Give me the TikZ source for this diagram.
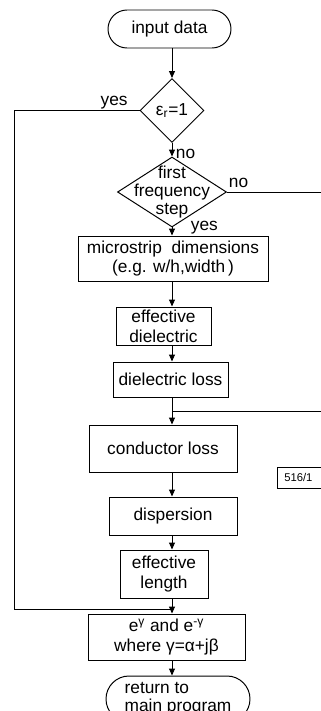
\documentclass[tikz,border=0pt]{standalone}
\usepackage{fontspec}
\setmainfont{Liberation Sans}
\usetikzlibrary{arrows.meta,shapes.geometric,shapes.misc}
\newcommand{\pxl}{0.025cm}

\begin{document}
\begin{tikzpicture}[x=0.025cm, y=-0.025cm, line width=0.7pt,
	font=\fontsize{12.3}{14}\selectfont,
	>={Triangle[length=7*\pxl, width=6*\pxl]},
	term/.style={draw, rounded rectangle, inner sep=0pt},
	proc/.style={draw, rectangle, align=center, inner sep=0pt},
	decision/.style={draw, diamond, inner sep=0pt},
	lbl/.style={inner sep=1pt},
	tag/.style={draw, line width=0.5pt, font=\fontsize{8}{9}\selectfont, text width=40*\pxl, align=left, inner xsep=7*\pxl, minimum height=21*\pxl}]
	\useasboundingbox (0,0) rectangle (321,711);
	
						% main column of the chart
						\coordinate (spine) at (172,0);
						\node [term, minimum width=123*\pxl, minimum height=38*\pxl] (input) at (169.5, 29) {input data};
						\node [decision, minimum width=64*\pxl, minimum height=64*\pxl, label=center:{ε\textsubscript{r}=1}] (epsr) at (172, 110.5) {};
						\node [decision, minimum width=109*\pxl, minimum height=70*\pxl, label={[align=center, font=\fontsize{12.3}{13}\selectfont]center:first\\frequency\\step}] (first) at (172, 192) {};
						\node [proc, minimum width=190*\pxl, minimum height=45*\pxl] (micro) at (173, 258.5) {microstrip\ \ dimensions\\(e.g. w/h,width\,)};
						\node [proc, minimum width=95*\pxl, minimum height=38*\pxl] (effdiel) at (163.5, 326) {effective\\dielectric};
						\node [proc, minimum width=115*\pxl, minimum height=35*\pxl] (dielloss) at (170.5, 379.5) {dielectric loss};
						\node [proc, minimum width=148*\pxl, minimum height=47*\pxl] (condloss) at (163, 448.5) {conductor loss};
						\node [proc, minimum width=128*\pxl, minimum height=38*\pxl] (disp) at (173, 516) {dispersion};
						\node [proc, minimum width=88*\pxl, minimum height=48*\pxl] (efflen) at (164, 574) {effective\\length};
						\node [proc, minimum width=157*\pxl, minimum height=46*\pxl] (prop) at (166.5, 637) {e\textsuperscript{γ} and e\textsuperscript{-γ}\\where γ=α+jβ};
						\node [term, minimum width=144*\pxl, minimum height=46*\pxl, align=left, font=\fontsize{12.3}{13}\selectfont] (ret) at (178, 699) {return to\\main program};
						
						% off-page ends and the bypass corner
						\coordinate (bypass) at (14, 609);
						\coordinate (skip) at (321, 192);
						\coordinate (back) at (321, 411);
						
						\node [tag, anchor=west] (fignum) at (277, 477.5) {516/1};
						
						\draw[->] (input.south -| spine) -- (epsr.north);
						\draw[->] (epsr.south) node[lbl, anchor=north west, xshift=2*\pxl, yshift=-4*\pxl] {no} -- (first.north);
						\draw[->] (first.south) node[lbl, anchor=west, xshift=17*\pxl] {yes} -- (micro.north -| spine);
						\draw[->] (micro.south -| spine) -- (effdiel.north -| spine);
						\draw[->] (effdiel.south -| spine) -- (dielloss.north -| spine);
						\draw[->] (dielloss.south -| spine) -- (condloss.north -| spine);
						\draw[->] (condloss.south -| spine) -- (disp.north -| spine);
						\draw[->] (disp.south -| spine) -- (efflen.north -| spine);
						\draw[->] (efflen.south -| spine) -- (prop.north -| spine);
						\draw[->] (prop.south -| spine) -- (ret.north -| spine);
						
						\draw (epsr.west) node[lbl, anchor=south east, xshift=-10*\pxl] {yes} -| (bypass) -- (bypass -| spine);
						\draw (first.east) node[lbl, anchor=south west, yshift=2*\pxl] {no} -- (first.east -| skip);
						\draw (back) -- (back -| spine);
\end{tikzpicture}
\end{document}
